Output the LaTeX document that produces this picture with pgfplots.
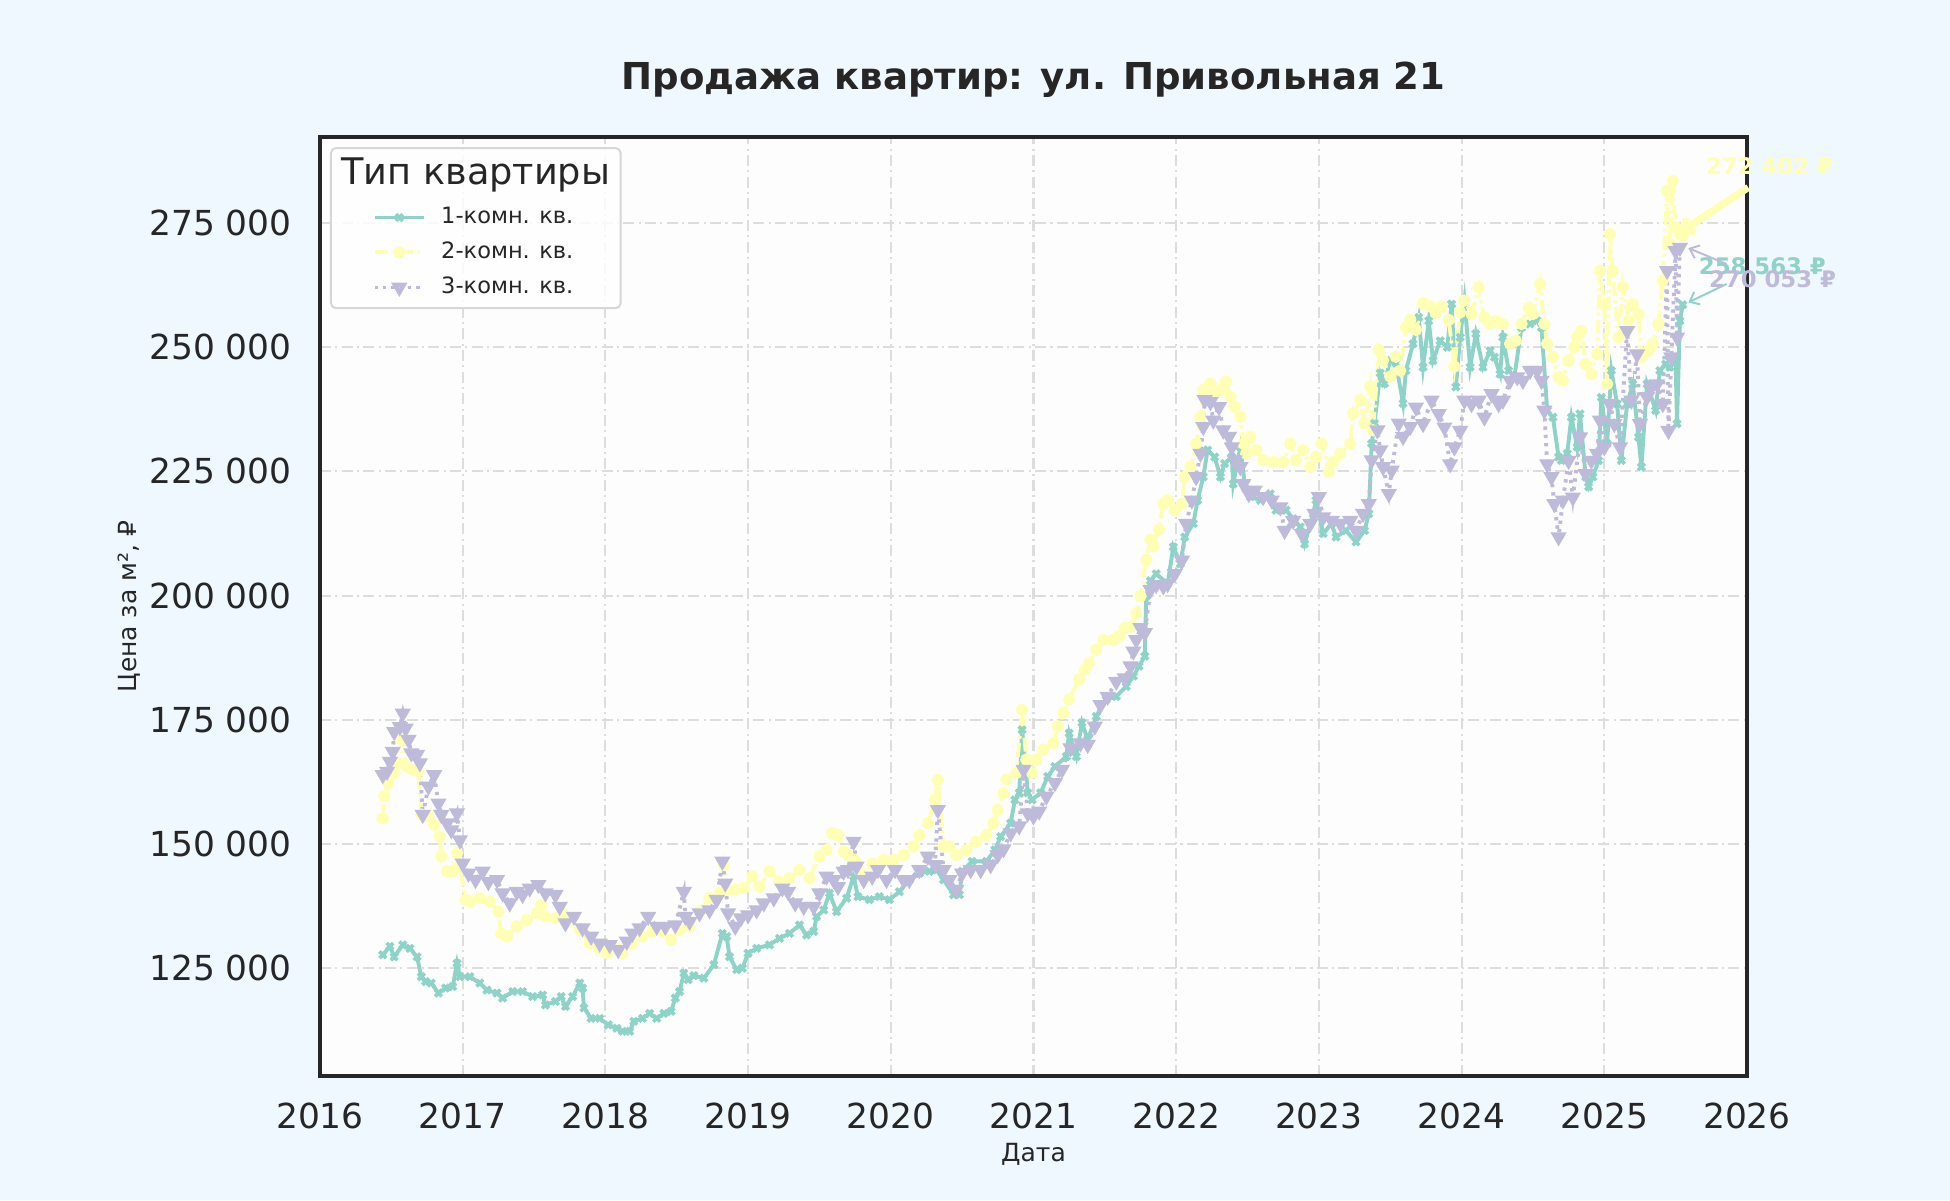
\documentclass[border=0pt]{standalone}
\usepackage{fontspec}
\setmainfont{DejaVu Sans}
\usepackage{pgfplots}
\usepackage{pgfplotstable}
\pgfplotsset{compat=1.18}
\usetikzlibrary{arrows.meta}

\definecolor{c1}{HTML}{8DD3C7}
\definecolor{c2}{HTML}{FFFFB3}
\definecolor{c3}{HTML}{BEBADA}
\definecolor{bg}{HTML}{F0F8FF}
\definecolor{ink}{HTML}{262626}
\definecolor{gridc}{HTML}{DDDDDD}
\definecolor{legc}{HTML}{D6D6D6}

% 1-комн. кв.
\pgfplotstableread[row sep=\\]{
x y\\
2016.44 127700\\ 2016.49 129400\\ 2016.52 127300\\ 2016.58 129700\\ 2016.63 129000\\
2016.68 127300\\ 2016.71 123300\\ 2016.74 122300\\ 2016.78 122000\\ 2016.83 120000\\
2016.88 121000\\ 2016.93 121300\\ 2016.96 126000\\ 2016.98 123300\\ 2017.05 123300\\
2017.12 122000\\ 2017.17 120600\\ 2017.24 120000\\ 2017.28 119000\\ 2017.35 120300\\
2017.42 120300\\ 2017.49 119300\\ 2017.56 119600\\ 2017.58 117600\\ 2017.65 118300\\
2017.69 119300\\ 2017.72 117300\\ 2017.77 119300\\ 2017.82 122000\\ 2017.84 121000\\
2017.85 117000\\ 2017.90 114900\\ 2017.96 114900\\ 2018.02 113600\\ 2018.08 112900\\
2018.12 112300\\ 2018.17 112300\\ 2018.20 114300\\ 2018.26 114900\\ 2018.31 115900\\
2018.36 114900\\ 2018.41 115900\\ 2018.46 116300\\ 2018.49 119000\\ 2018.52 120300\\
2018.55 124000\\ 2018.58 122700\\ 2018.62 123500\\ 2018.69 123000\\ 2018.76 125700\\
2018.82 132000\\ 2018.85 131400\\ 2018.87 127300\\ 2018.92 124700\\ 2018.96 125000\\
2019.00 128000\\ 2019.06 129000\\ 2019.15 129700\\ 2019.22 131000\\ 2019.29 132000\\
2019.36 133700\\ 2019.41 131700\\ 2019.46 132400\\ 2019.48 135400\\ 2019.53 136700\\
2019.57 140100\\ 2019.62 136400\\ 2019.69 139100\\ 2019.74 143500\\ 2019.77 139400\\
2019.85 138800\\ 2019.92 139400\\ 2019.99 138800\\ 2020.06 140400\\ 2020.13 142800\\
2020.20 144100\\ 2020.27 144500\\ 2020.32 144800\\ 2020.37 142800\\ 2020.44 139800\\
2020.48 139800\\ 2020.50 144500\\ 2020.57 146500\\ 2020.67 146500\\ 2020.73 148800\\
2020.77 151500\\ 2020.84 154200\\ 2020.87 158900\\ 2020.90 160300\\ 2020.92 173000\\
2020.94 167000\\ 2020.96 160300\\ 2020.99 158900\\ 2021.05 160300\\ 2021.10 163600\\
2021.15 165600\\ 2021.23 167600\\ 2021.25 172300\\ 2021.30 167600\\ 2021.34 174400\\
2021.38 171000\\ 2021.44 175700\\ 2021.51 179100\\ 2021.58 179700\\ 2021.65 181700\\
2021.70 183800\\ 2021.74 185800\\ 2021.78 187800\\ 2021.79 199900\\ 2021.82 203000\\
2021.86 204400\\ 2021.94 202400\\ 2021.98 209800\\ 2022.03 206400\\ 2022.06 211800\\
2022.12 214500\\ 2022.15 219200\\ 2022.19 223900\\ 2022.22 229300\\ 2022.27 227900\\
2022.31 223900\\ 2022.34 226600\\ 2022.39 227900\\ 2022.40 222500\\ 2022.45 229900\\
2022.48 222500\\ 2022.52 219900\\ 2022.59 219200\\ 2022.66 220500\\ 2022.70 217200\\
2022.77 217200\\ 2022.82 215500\\ 2022.87 213800\\ 2022.90 210400\\ 2022.96 216500\\
2022.98 219200\\ 2023.03 212500\\ 2023.09 214500\\ 2023.12 211800\\ 2023.19 213100\\
2023.26 210800\\ 2023.32 213100\\ 2023.35 216500\\ 2023.37 230600\\ 2023.39 234700\\
2023.43 244800\\ 2023.46 242700\\ 2023.50 247400\\ 2023.54 246800\\ 2023.59 238700\\
2023.61 245300\\ 2023.66 250700\\ 2023.70 256000\\ 2023.73 246000\\ 2023.77 255300\\
2023.80 247300\\ 2023.85 251300\\ 2023.90 250000\\ 2023.93 258700\\ 2023.96 242000\\
2023.99 252000\\ 2024.02 259400\\ 2024.06 246000\\ 2024.10 252700\\ 2024.15 246000\\
2024.20 249300\\ 2024.23 248000\\ 2024.27 244600\\ 2024.29 252000\\ 2024.33 245300\\
2024.37 244000\\ 2024.42 254000\\ 2024.48 254700\\ 2024.53 255300\\ 2024.56 254000\\
2024.60 237300\\ 2024.64 235900\\ 2024.68 227900\\ 2024.70 227200\\ 2024.74 228600\\
2024.77 235900\\ 2024.81 229900\\ 2024.83 236600\\ 2024.87 223900\\ 2024.89 221900\\
2024.92 223900\\ 2024.96 227200\\ 2024.98 239900\\ 2025.02 230600\\ 2025.05 245300\\
2025.09 238600\\ 2025.12 227200\\ 2025.16 238600\\ 2025.20 242600\\ 2025.24 231900\\
2025.26 225900\\ 2025.30 242600\\ 2025.36 237300\\ 2025.39 245300\\ 2025.43 246600\\
2025.46 246000\\ 2025.50 247300\\ 2025.51 234600\\ 2025.53 255300\\ 2025.55 258563\\
}\tabA

% 2-комн. кв.
\pgfplotstableread[row sep=\\]{
x y\\
2016.44 155200\\ 2016.45 159600\\ 2016.48 162200\\ 2016.52 164300\\ 2016.55 166300\\
2016.57 171000\\ 2016.61 165600\\ 2016.65 164900\\ 2016.69 164600\\ 2016.71 155900\\
2016.76 155500\\ 2016.80 153900\\ 2016.84 151500\\ 2016.85 147500\\ 2016.89 144500\\
2016.93 144500\\ 2016.96 148100\\ 2016.98 145500\\ 2017.02 138800\\ 2017.05 138400\\
2017.12 139100\\ 2017.19 138400\\ 2017.25 136400\\ 2017.27 132000\\ 2017.31 131400\\
2017.38 133400\\ 2017.45 134700\\ 2017.52 136100\\ 2017.55 137700\\ 2017.58 135400\\
2017.65 135100\\ 2017.70 136100\\ 2017.75 134700\\ 2017.82 132700\\ 2017.89 130000\\
2017.96 129000\\ 2018.01 128000\\ 2018.08 129000\\ 2018.12 128000\\ 2018.19 130000\\
2018.26 131400\\ 2018.33 132400\\ 2018.40 132400\\ 2018.46 130700\\ 2018.52 132700\\
2018.59 133400\\ 2018.66 136400\\ 2018.73 139100\\ 2018.80 140100\\ 2018.83 145800\\
2018.86 140800\\ 2018.91 140800\\ 2018.97 141100\\ 2019.03 143500\\ 2019.08 141400\\
2019.15 144500\\ 2019.22 142400\\ 2019.29 143100\\ 2019.36 144800\\ 2019.43 143100\\
2019.50 147500\\ 2019.55 148800\\ 2019.59 152200\\ 2019.63 151800\\ 2019.67 148500\\
2019.70 147800\\ 2019.75 146800\\ 2019.78 144800\\ 2019.82 143100\\ 2019.87 146100\\
2019.95 146800\\ 2020.02 146800\\ 2020.09 147800\\ 2020.16 149500\\ 2020.20 151800\\
2020.26 154200\\ 2020.31 158900\\ 2020.33 162900\\ 2020.37 149500\\ 2020.41 149500\\
2020.46 147800\\ 2020.53 148800\\ 2020.60 150500\\ 2020.67 151800\\ 2020.72 154200\\
2020.75 156900\\ 2020.79 160200\\ 2020.81 163000\\ 2020.88 164300\\ 2020.92 177000\\
2020.95 167000\\ 2020.99 164300\\ 2021.02 167000\\ 2021.07 169000\\ 2021.14 170300\\
2021.17 173700\\ 2021.21 176400\\ 2021.25 179100\\ 2021.32 183100\\ 2021.36 185100\\
2021.39 186400\\ 2021.44 189100\\ 2021.49 191100\\ 2021.56 191100\\ 2021.60 191800\\
2021.64 193500\\ 2021.69 193800\\ 2021.72 196500\\ 2021.75 199900\\ 2021.79 207200\\
2021.82 211300\\ 2021.84 209900\\ 2021.88 213300\\ 2021.91 218500\\ 2021.94 219200\\
2021.99 217200\\ 2022.04 218500\\ 2022.06 223900\\ 2022.10 225900\\ 2022.14 230600\\
2022.17 236000\\ 2022.19 241400\\ 2022.24 242700\\ 2022.27 240700\\ 2022.31 241400\\
2022.35 243100\\ 2022.38 240000\\ 2022.41 238000\\ 2022.45 236000\\ 2022.47 230600\\
2022.49 228600\\ 2022.52 232000\\ 2022.56 229300\\ 2022.61 227300\\ 2022.68 226900\\
2022.75 226900\\ 2022.80 230600\\ 2022.84 227300\\ 2022.89 229300\\ 2022.94 225900\\
2022.98 227900\\ 2023.02 230600\\ 2023.07 224900\\ 2023.10 226900\\ 2023.15 228600\\
2023.22 230600\\ 2023.24 236700\\ 2023.29 239400\\ 2023.32 234700\\ 2023.36 242100\\
2023.38 233300\\ 2023.42 249500\\ 2023.45 247400\\ 2023.50 244100\\ 2023.54 248100\\
2023.57 245300\\ 2023.61 254000\\ 2023.64 255500\\ 2023.68 253500\\ 2023.73 258900\\
2023.78 258200\\ 2023.82 256900\\ 2023.86 258200\\ 2023.91 255500\\ 2023.95 246100\\
2023.99 257000\\ 2024.02 259400\\ 2024.07 256700\\ 2024.12 262100\\ 2024.16 256000\\
2024.20 254700\\ 2024.24 255300\\ 2024.29 254700\\ 2024.34 250700\\ 2024.38 251300\\
2024.42 254700\\ 2024.47 258000\\ 2024.50 256700\\ 2024.55 262700\\ 2024.58 254700\\
2024.60 250700\\ 2024.64 248000\\ 2024.68 244000\\ 2024.71 243300\\ 2024.75 247300\\
2024.79 250000\\ 2024.81 252000\\ 2024.84 253300\\ 2024.87 246600\\ 2024.91 244600\\
2024.95 248600\\ 2024.97 265400\\ 2025.00 258700\\ 2025.02 242600\\ 2025.04 272800\\
2025.06 265400\\ 2025.10 252000\\ 2025.13 262100\\ 2025.17 255300\\ 2025.20 258700\\
2025.24 256700\\ 2025.26 248000\\ 2025.31 249300\\ 2025.34 250700\\ 2025.38 254700\\
2025.41 263400\\ 2025.44 281500\\ 2025.46 270800\\ 2025.48 283500\\ 2025.50 274100\\
2025.53 272800\\ 2025.55 272402\\
}\tabB

% 3-комн. кв.
\pgfplotstableread[row sep=\\]{
x y\\
2016.44 163900\\ 2016.47 164600\\ 2016.49 166600\\ 2016.51 168600\\ 2016.52 172600\\
2016.56 173600\\ 2016.58 176300\\ 2016.60 173300\\ 2016.62 171000\\ 2016.64 168300\\
2016.68 168000\\ 2016.70 166300\\ 2016.72 155900\\ 2016.76 161600\\ 2016.80 163900\\
2016.83 158200\\ 2016.85 155900\\ 2016.89 154200\\ 2016.92 152800\\ 2016.96 156200\\
2016.98 150800\\ 2017.00 146100\\ 2017.04 144100\\ 2017.09 142800\\ 2017.14 144500\\
2017.18 142400\\ 2017.24 142800\\ 2017.28 140100\\ 2017.33 138100\\ 2017.38 140400\\
2017.42 139800\\ 2017.47 141100\\ 2017.53 141800\\ 2017.58 140100\\ 2017.65 139800\\
2017.68 137400\\ 2017.72 134100\\ 2017.78 135400\\ 2017.84 133100\\ 2017.90 131400\\
2017.96 130000\\ 2018.03 129700\\ 2018.09 128700\\ 2018.15 130400\\ 2018.19 132000\\
2018.24 133100\\ 2018.30 135400\\ 2018.36 133400\\ 2018.42 133400\\ 2018.49 133700\\
2018.55 140400\\ 2018.56 135400\\ 2018.59 134400\\ 2018.66 136100\\ 2018.73 136700\\
2018.78 138800\\ 2018.82 146500\\ 2018.84 142100\\ 2018.86 136100\\ 2018.91 133400\\
2018.95 135100\\ 2019.00 135700\\ 2019.06 136700\\ 2019.11 138100\\ 2019.18 139100\\
2019.24 141100\\ 2019.28 140400\\ 2019.33 138100\\ 2019.39 137400\\ 2019.46 137400\\
2019.50 140100\\ 2019.55 143500\\ 2019.60 142800\\ 2019.63 141400\\ 2019.67 144500\\
2019.70 144800\\ 2019.74 150500\\ 2019.76 145500\\ 2019.81 142800\\ 2019.87 143500\\
2019.91 144800\\ 2019.97 142800\\ 2020.03 144800\\ 2020.09 142800\\ 2020.13 142800\\
2020.20 144800\\ 2020.26 147500\\ 2020.31 145800\\ 2020.33 156900\\ 2020.37 144800\\
2020.41 142800\\ 2020.46 140800\\ 2020.50 144100\\ 2020.56 144800\\ 2020.63 144800\\
2020.70 145800\\ 2020.75 147800\\ 2020.79 149000\\ 2020.84 152200\\ 2020.90 153600\\
2020.93 165000\\ 2020.96 156200\\ 2021.00 155600\\ 2021.04 156600\\ 2021.09 159600\\
2021.15 162300\\ 2021.20 165000\\ 2021.26 169300\\ 2021.33 170300\\ 2021.38 170000\\
2021.43 173700\\ 2021.47 178000\\ 2021.52 179700\\ 2021.58 182700\\ 2021.64 183400\\
2021.68 185800\\ 2021.70 188800\\ 2021.72 191100\\ 2021.75 193500\\ 2021.78 192500\\
2021.82 201200\\ 2021.86 202200\\ 2021.91 201900\\ 2021.94 202400\\ 2021.99 204400\\
2022.04 207100\\ 2022.07 214500\\ 2022.11 219200\\ 2022.14 223900\\ 2022.17 228600\\
2022.19 234000\\ 2022.20 239400\\ 2022.24 239000\\ 2022.26 235300\\ 2022.30 238000\\
2022.33 233300\\ 2022.37 232000\\ 2022.39 229900\\ 2022.41 227300\\ 2022.45 225900\\
2022.47 222500\\ 2022.51 220500\\ 2022.55 221200\\ 2022.61 219900\\ 2022.67 219200\\
2022.73 217800\\ 2022.76 213100\\ 2022.82 215100\\ 2022.88 212500\\ 2022.94 214500\\
2022.97 216500\\ 2023.00 219900\\ 2023.03 215800\\ 2023.09 215100\\ 2023.15 214500\\
2023.22 215100\\ 2023.26 213100\\ 2023.31 216500\\ 2023.35 218500\\ 2023.37 227300\\
2023.41 233300\\ 2023.43 229300\\ 2023.45 225900\\ 2023.49 220500\\ 2023.51 225200\\
2023.56 234700\\ 2023.59 232000\\ 2023.64 234000\\ 2023.68 237900\\ 2023.73 234600\\
2023.79 239300\\ 2023.84 236600\\ 2023.88 233900\\ 2023.92 226500\\ 2023.95 229900\\
2023.99 233200\\ 2024.02 239300\\ 2024.07 238600\\ 2024.12 239300\\ 2024.16 235900\\
2024.21 240600\\ 2024.26 238600\\ 2024.29 239300\\ 2024.34 243300\\ 2024.39 244000\\
2024.43 243300\\ 2024.48 245300\\ 2024.53 245300\\ 2024.56 243300\\ 2024.58 237300\\
2024.60 226500\\ 2024.63 223900\\ 2024.65 218500\\ 2024.68 211800\\ 2024.71 219200\\
2024.75 227200\\ 2024.78 219800\\ 2024.83 231900\\ 2024.87 224500\\ 2024.91 227200\\
2024.95 228600\\ 2024.97 235300\\ 2025.00 229900\\ 2025.04 238600\\ 2025.07 234600\\
2025.11 229900\\ 2025.16 253300\\ 2025.19 239300\\ 2025.23 248600\\ 2025.25 234600\\
2025.30 240000\\ 2025.33 242000\\ 2025.37 242600\\ 2025.41 238600\\ 2025.44 265400\\
2025.45 233200\\ 2025.47 248000\\ 2025.50 269400\\ 2025.51 252000\\ 2025.53 270053\\
}\tabC

\begin{document}
\begin{tikzpicture}
\fill[bg] (-115.2pt,-44.64pt) rectangle (586.8pt,387.36pt);
\begin{axis}[
  at={(0pt,0pt)}, anchor=south west,
  scale only axis, width=513.7pt, height=338pt,
  xmin=2016, xmax=2026, ymin=103300, ymax=292300,
  clip=false,
  scaled x ticks=false, scaled y ticks=false,
  xtick={2016,2017,2018,2019,2020,2021,2022,2023,2024,2025,2026},
  xticklabels={2016,2017,2018,2019,2020,2021,2022,2023,2024,2025,2026},
  ytick={125000,150000,175000,200000,225000,250000,275000},
  yticklabels={125 000,150 000,175 000,200 000,225 000,250 000,275 000},
  major tick length=0pt,
  tick label style={font=\fontsize{12.4}{15}\selectfont, text=ink, inner sep=0pt},
  xticklabel style={anchor=base, yshift=-18.8pt},
  yticklabel style={anchor=east, xshift=-10pt},
  axis line style={ink, line width=1.2pt},
  axis background/.style={fill={rgb,255:red,253;green,253;blue,253}},
  grid=major,
  major grid style={gridc, line width=0.75pt, dash pattern=on 4pt off 1.5pt on 0.8pt off 1.5pt},
  title={\bfseries Продажа квартир: ул. Привольная 21},
  title style={at={(axis description cs:0.5,1)}, anchor=base, yshift=11.1pt, font=\fontsize{13.35}{16}\selectfont, text=ink, inner sep=0pt},
  xlabel={Дата},
  xlabel style={at={(axis description cs:0.5,0)}, anchor=base, yshift=-30.8pt, font=\fontsize{9}{11}\selectfont, text=ink, inner sep=0pt},
  ylabel={Цена за м², ₽},
  ylabel style={at={([xshift=-66pt]axis description cs:0,0.5)}, anchor=base, font=\fontsize{9}{11}\selectfont, text=ink, inner sep=0pt},
  legend cell align=left,
  legend image code/.code={\draw[mark repeat=2,mark phase=2] plot coordinates {(0pt,0pt) (8.9pt,0pt) (17.8pt,0pt)};},
  legend style={at={(axis description cs:0,1)}, anchor=north west, xshift=3.6pt, yshift=-3.6pt,
    draw=legc, line width=0.7pt, fill=white, fill opacity=0.8, draw opacity=1, text opacity=1,
    rounded corners=1.8pt, font=\fontsize{8.1}{10}\selectfont, text=ink,
    inner xsep=15pt, inner ysep=1.7pt, row sep=1.1pt, column sep=3.5pt,
    label={[anchor=north, yshift=-3.6pt, inner sep=0pt, font=\fontsize{13.2}{16}\selectfont, text=ink, text opacity=1, fill opacity=1]north:Тип квартиры}},
]
\addlegendimage{empty legend}
\addlegendentry{\rule{0pt}{11pt}}
\addplot[c1, line width=1.4pt, mark=x, mark size=1.7pt, mark options={solid, line width=1.3pt}] table[x=x, y=y] {\tabA};
\addlegendentry{1-комн. кв.}
\addplot[c2, line width=1.4pt, dash pattern=on 5pt off 1.5pt on 1pt off 1.5pt, mark=*, mark size=1.5pt, mark options={solid}] table[x=x, y=y] {\tabB};
\addlegendentry{2-комн. кв.}
\addplot[c3, line width=1.4pt, dash pattern=on 1.2pt off 1.8pt, mark=triangle*, mark size=2pt, mark options={solid, rotate=180}] table[x=x, y=y] {\tabC};
\addlegendentry{3-комн. кв.}

\draw[c2, line width=2.6pt, -{Straight Barb[length=3pt, width=6pt]}] (axis cs:2026.009,282160) -- (axis cs:2025.53,273110);
\node[c2, font=\bfseries\fontsize{8.2}{10}\selectfont, inner sep=0pt] at (axis cs:2026.158,286530) {272 402 ₽};
\draw[c1, line width=0.7pt, -{Straight Barb[length=3pt, width=5pt]}] (axis cs:2025.857,262730) -- (axis cs:2025.589,259020);
\node[c1, font=\bfseries\fontsize{8.2}{10}\selectfont, inner sep=0pt] at (axis cs:2026.108,266410) {258 563 ₽};
\draw[c3, line width=0.7pt, -{Straight Barb[length=3pt, width=5pt]}] (axis cs:2025.857,266750) -- (axis cs:2025.589,269970);
\node[c3, font=\bfseries\fontsize{8.2}{10}\selectfont, inner sep=0pt] at (axis cs:2026.179,263650) {270 053 ₽};
\end{axis}
\pgfresetboundingbox
\path[use as bounding box] (-115.2pt,-44.64pt) rectangle (586.8pt,387.36pt);
\end{tikzpicture}
\end{document}
